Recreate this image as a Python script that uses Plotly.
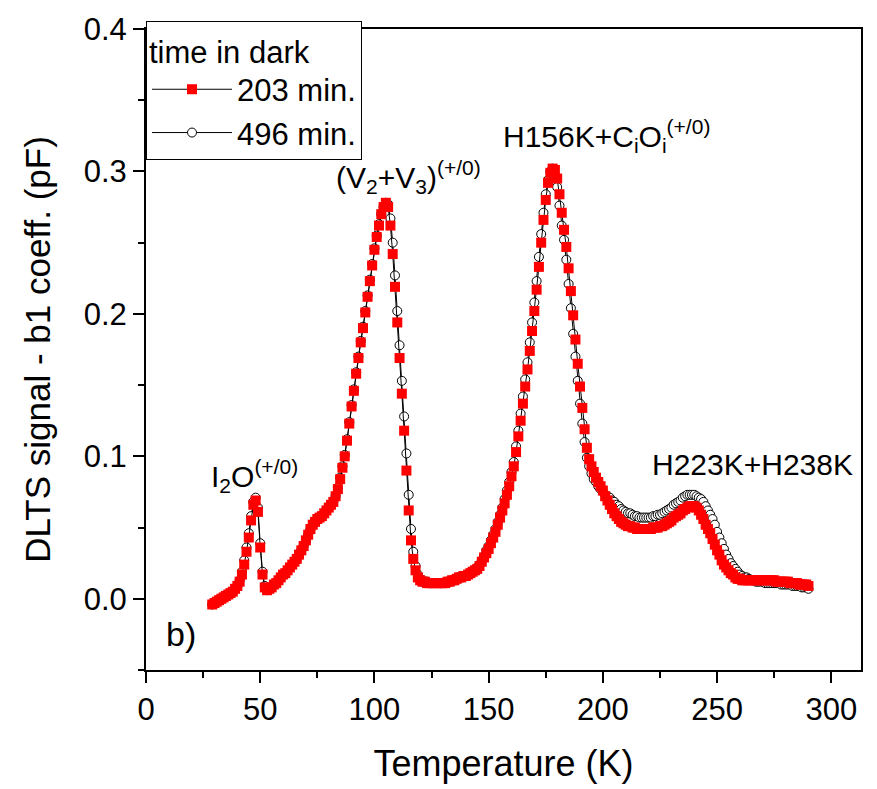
import plotly.graph_objects as go

temperature_K = list(range(29, 291))

signal_496min = [
    -0.004, -0.003, -0.002, -0.001, 0.000, 0.001, 0.002, 0.003, 0.004, 0.005,
    0.007, 0.009, 0.013, 0.019, 0.027, 0.036, 0.046, 0.058, 0.068, 0.071,
    0.064, 0.039, 0.019, 0.009, 0.006, 0.007, 0.008, 0.010, 0.011, 0.013,
    0.015, 0.017, 0.018, 0.020, 0.022, 0.024, 0.026, 0.028, 0.031, 0.034,
    0.037, 0.041, 0.045, 0.049, 0.052, 0.054, 0.056, 0.057, 0.058, 0.060,
    0.062, 0.064, 0.066, 0.068, 0.072, 0.078, 0.085, 0.093, 0.101, 0.112,
    0.124, 0.136, 0.147, 0.159, 0.170, 0.181, 0.191, 0.202, 0.213, 0.224,
    0.235, 0.246, 0.255, 0.263, 0.270, 0.275, 0.278, 0.277, 0.267, 0.250,
    0.227, 0.202, 0.178, 0.153, 0.128, 0.102, 0.073, 0.049, 0.033, 0.023,
    0.017, 0.014, 0.013, 0.012, 0.012, 0.011, 0.011, 0.011, 0.011, 0.011,
    0.011, 0.011, 0.011, 0.012, 0.012, 0.013, 0.013, 0.014, 0.015, 0.015,
    0.016, 0.016, 0.017, 0.018, 0.019, 0.020, 0.022, 0.024, 0.027, 0.030,
    0.034, 0.037, 0.041, 0.045, 0.049, 0.054, 0.059, 0.064, 0.070, 0.076,
    0.082, 0.089, 0.096, 0.107, 0.118, 0.130, 0.142, 0.154, 0.166, 0.180,
    0.194, 0.208, 0.223, 0.240, 0.256, 0.271, 0.284, 0.294, 0.300, 0.302,
    0.297, 0.289, 0.276, 0.262, 0.252, 0.238, 0.221, 0.204, 0.186, 0.170,
    0.153, 0.137, 0.123, 0.110, 0.099, 0.093, 0.088, 0.084, 0.082, 0.079,
    0.077, 0.075, 0.073, 0.072, 0.071, 0.069, 0.068, 0.066, 0.065, 0.063,
    0.062, 0.061, 0.060, 0.060, 0.059, 0.058, 0.058, 0.057, 0.057, 0.057,
    0.057, 0.057, 0.057, 0.058, 0.058, 0.059, 0.059, 0.060, 0.061, 0.062,
    0.063, 0.064, 0.066, 0.067, 0.068, 0.069, 0.071, 0.072, 0.073, 0.073,
    0.073, 0.073, 0.072, 0.071, 0.070, 0.068, 0.065, 0.062, 0.059, 0.056,
    0.052, 0.047, 0.043, 0.039, 0.035, 0.031, 0.028, 0.025, 0.023, 0.021,
    0.019, 0.017, 0.016, 0.015, 0.015, 0.014, 0.013, 0.013, 0.012, 0.012,
    0.012, 0.012, 0.011, 0.011, 0.011, 0.011, 0.011, 0.011, 0.011, 0.010,
    0.010, 0.010, 0.010, 0.010, 0.009, 0.009, 0.009, 0.009, 0.008, 0.008,
    0.008, 0.007,
]

signal_203min = [
    -0.004, -0.003, -0.002, -0.001, 0.000, 0.001, 0.002, 0.003, 0.004, 0.005,
    0.007, 0.009, 0.012, 0.017, 0.024, 0.033, 0.043, 0.055, 0.066, 0.069,
    0.061, 0.036, 0.017, 0.008, 0.006, 0.007, 0.008, 0.010, 0.011, 0.013,
    0.015, 0.017, 0.018, 0.020, 0.022, 0.024, 0.026, 0.028, 0.031, 0.034,
    0.037, 0.041, 0.045, 0.049, 0.052, 0.054, 0.056, 0.057, 0.058, 0.060,
    0.062, 0.064, 0.066, 0.068, 0.072, 0.077, 0.084, 0.092, 0.100, 0.111,
    0.123, 0.135, 0.146, 0.158, 0.169, 0.180, 0.190, 0.201, 0.212, 0.223,
    0.234, 0.245, 0.254, 0.262, 0.270, 0.275, 0.278, 0.275, 0.262, 0.242,
    0.219, 0.194, 0.169, 0.144, 0.118, 0.090, 0.062, 0.041, 0.028, 0.020,
    0.015, 0.013, 0.012, 0.012, 0.011, 0.011, 0.011, 0.011, 0.011, 0.011,
    0.011, 0.011, 0.011, 0.012, 0.012, 0.013, 0.013, 0.014, 0.015, 0.015,
    0.016, 0.016, 0.017, 0.018, 0.019, 0.020, 0.021, 0.023, 0.026, 0.029,
    0.032, 0.035, 0.039, 0.043, 0.047, 0.052, 0.057, 0.062, 0.067, 0.073,
    0.079, 0.086, 0.093, 0.103, 0.114, 0.125, 0.137, 0.149, 0.161, 0.174,
    0.188, 0.202, 0.217, 0.233, 0.250, 0.266, 0.280, 0.292, 0.299, 0.302,
    0.301, 0.295, 0.284, 0.271, 0.259, 0.247, 0.232, 0.216, 0.199, 0.182,
    0.165, 0.149, 0.134, 0.119, 0.106, 0.098, 0.093, 0.089, 0.085, 0.082,
    0.079, 0.076, 0.072, 0.069, 0.066, 0.063, 0.060, 0.058, 0.056, 0.054,
    0.053, 0.052, 0.051, 0.051, 0.050, 0.050, 0.049, 0.049, 0.049, 0.049,
    0.049, 0.049, 0.049, 0.050, 0.050, 0.050, 0.051, 0.051, 0.052, 0.053,
    0.054, 0.055, 0.057, 0.058, 0.059, 0.060, 0.062, 0.063, 0.064, 0.065,
    0.065, 0.065, 0.064, 0.062, 0.059, 0.056, 0.052, 0.049, 0.046, 0.042,
    0.038, 0.034, 0.031, 0.027, 0.024, 0.022, 0.020, 0.018, 0.017, 0.015,
    0.014, 0.014, 0.013, 0.013, 0.013, 0.013, 0.013, 0.013, 0.013, 0.013,
    0.013, 0.013, 0.013, 0.013, 0.013, 0.013, 0.013, 0.012, 0.012, 0.012,
    0.012, 0.012, 0.012, 0.011, 0.011, 0.011, 0.011, 0.010, 0.010, 0.010,
    0.010, 0.009,
]

series_names = ["203 min.", "496 min."]
legend_title = "time in dark"
x_title = "Temperature (K)"
y_title = "DLTS signal - b1 coeff. (pF)"

FONT = "Liberation Sans, Arial, sans-serif"

fig = go.Figure()

fig.add_trace(go.Scatter(
    x=temperature_K, y=signal_496min, name=series_names[1],
    mode="lines+markers",
    line=dict(color="black", width=1),
    marker=dict(symbol="circle", size=9, color="white",
                line=dict(color="black", width=1)),
))
fig.add_trace(go.Scatter(
    x=temperature_K, y=signal_203min, name=series_names[0],
    mode="lines+markers",
    line=dict(color="black", width=1),
    marker=dict(symbol="square", size=10, color="#ff0000",
                line=dict(width=0)),
))

ann_font = dict(family=FONT, size=30, color="black")
annotations = [
    dict(x=47.3, y=0.086, text="I<sub>2</sub>O<sup>(+/0)</sup>"),
    dict(x=114.8, y=0.296, text="(V<sub>2</sub>+V<sub>3</sub>)<sup>(+/0)</sup>"),
    dict(x=201.5, y=0.325, text="H156K+C<sub>i</sub>O<sub>i</sub><sup>(+/0)</sup>"),
    dict(x=265.5, y=0.094, text="H223K+H238K"),
]
for a in annotations:
    fig.add_annotation(xref="x", yref="y", showarrow=False,
                       xanchor="center", yanchor="middle",
                       font=ann_font, **a)
fig.add_annotation(xref="x", yref="y", showarrow=False,
                   xanchor="center", yanchor="middle",
                   x=15.5, y=-0.025, text="b)",
                   font=dict(family=FONT, size=34, color="black"))

axis_common = dict(
    showgrid=False, zeroline=False,
    showline=True, linecolor="black", linewidth=2, mirror=True,
    ticks="outside", ticklen=11, tickwidth=2, tickcolor="black",
    tickfont=dict(family=FONT, size=31, color="black"),
)

fig.update_xaxes(
    range=[0, 313], tick0=0, dtick=50,
    minor=dict(ticks="outside", ticklen=6, tickwidth=2, tickcolor="black", dtick=25),
    title=dict(text=x_title, font=dict(family=FONT, size=36, color="black"), standoff=25),
    **axis_common,
)
fig.update_yaxes(
    range=[-0.05, 0.4], tick0=0, dtick=0.1, tickformat=".1f",
    minor=dict(ticks="outside", ticklen=6, tickwidth=2, tickcolor="black", dtick=0.05),
    title=dict(text=y_title, font=dict(family=FONT, size=35, color="black"), standoff=22),
    **axis_common,
)

fig.update_layout(
    width=877, height=789,
    margin=dict(l=146, r=16, t=22, b=118),
    paper_bgcolor="white", plot_bgcolor="white",
    font=dict(family=FONT, color="black"),
    showlegend=True,
    legend=dict(
        x=0, y=1.012, xanchor="left", yanchor="top",
        bgcolor="white", bordercolor="black", borderwidth=1,
        traceorder="reversed",
        font=dict(family=FONT, size=31, color="black"),
        title=dict(text=legend_title, font=dict(family=FONT, size=31, color="black")),
        itemwidth=80, tracegroupgap=0,
    ),
)

fig.write_html("out.html")
